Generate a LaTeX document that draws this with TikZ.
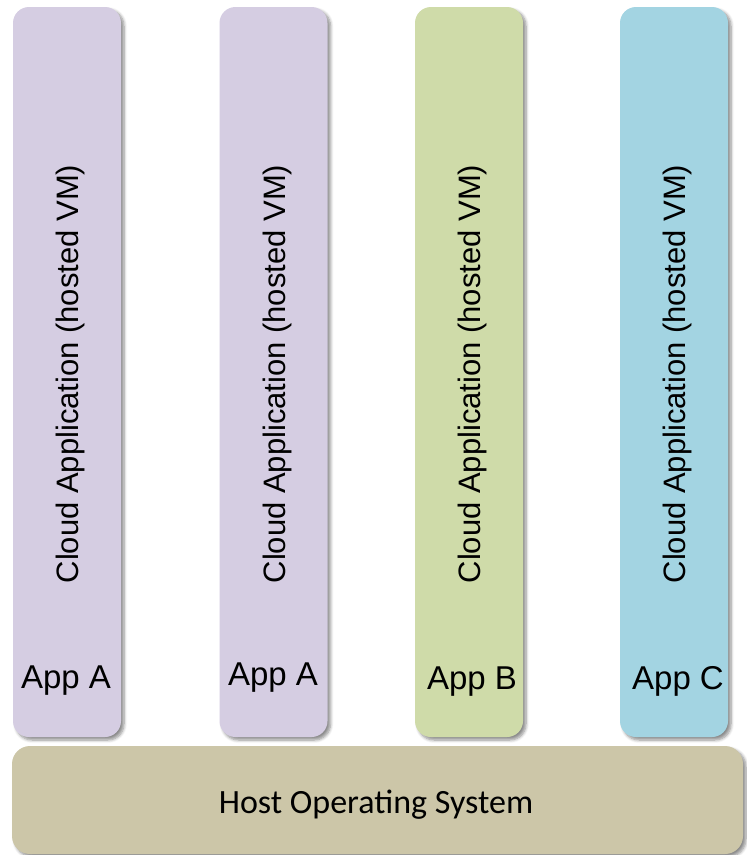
\documentclass[tikz,border=0pt]{standalone}
\usepackage{fontspec}
\setmainfont{Liberation Sans}
\newfontfamily\hostfont{Carlito}
\usetikzlibrary{shadows.blur}
\definecolor{vmpurple}{RGB}{213,205,226}
\definecolor{vmgreen}{RGB}{207,219,169}
\definecolor{vmblue}{RGB}{163,212,226}
\definecolor{hostkhaki}{RGB}{204,198,168}
\tikzset{
  vmbox/.style={rectangle, rounded corners=16pt, minimum width=108pt,
    minimum height=730pt, inner sep=0pt, draw=none,
    blur shadow={shadow xshift=3pt, shadow yshift=-3pt, shadow blur steps=6,
      shadow blur radius=3pt, shadow opacity=45}},
  hostbox/.style={rectangle, rounded corners=18pt, minimum width=731pt,
    minimum height=108pt, inner sep=0pt, fill=hostkhaki, draw=none,
    blur shadow={shadow xshift=3pt, shadow yshift=-3pt, shadow blur steps=6,
      shadow blur radius=3pt, shadow opacity=45}},
  vmtext/.style={rotate=90, inner sep=0pt, font=\fontsize{31}{37}\selectfont},
  apptext/.style={anchor=base, inner sep=0pt, font=\fontsize{33}{39}\selectfont},
  hosttext/.style={anchor=base, inner sep=0pt, font=\hostfont\fontsize{34}{40}\selectfont}
}
\begin{document}
\begin{tikzpicture}[x=1pt, y=-1pt]
  \useasboundingbox (0,0) rectangle (747,855);
  % host operating system layer
  \node[hostbox] (host) at (377.5,800) {};
  \node[hosttext] (hostlbl) at (376,813) {Host Operating System};
  % hosted VMs
  \node[vmbox, fill=vmpurple] (vm1) at (67,372) {};
  \node[vmbox, fill=vmpurple] (vm2) at (273.5,372) {};
  \node[vmbox, fill=vmgreen]  (vm3) at (469,372) {};
  \node[vmbox, fill=vmblue]   (vm4) at (674,372) {};
  % vertical captions
  \node[vmtext] (cap1) at (70,374) {Cloud Application (hosted VM)};
  \node[vmtext] (cap2) at (277,374) {Cloud Application (hosted VM)};
  \node[vmtext] (cap3) at (472,374) {Cloud Application (hosted VM)};
  \node[vmtext] (cap4) at (677,374) {Cloud Application (hosted VM)};
  % application names
  \node[apptext] (app1) at (66,688) {App A};
  \node[apptext] (app2) at (273,685) {App A};
  \node[apptext] (app3) at (472,689) {App B};
  \node[apptext] (app4) at (678,689) {App C};
\end{tikzpicture}
\end{document}
